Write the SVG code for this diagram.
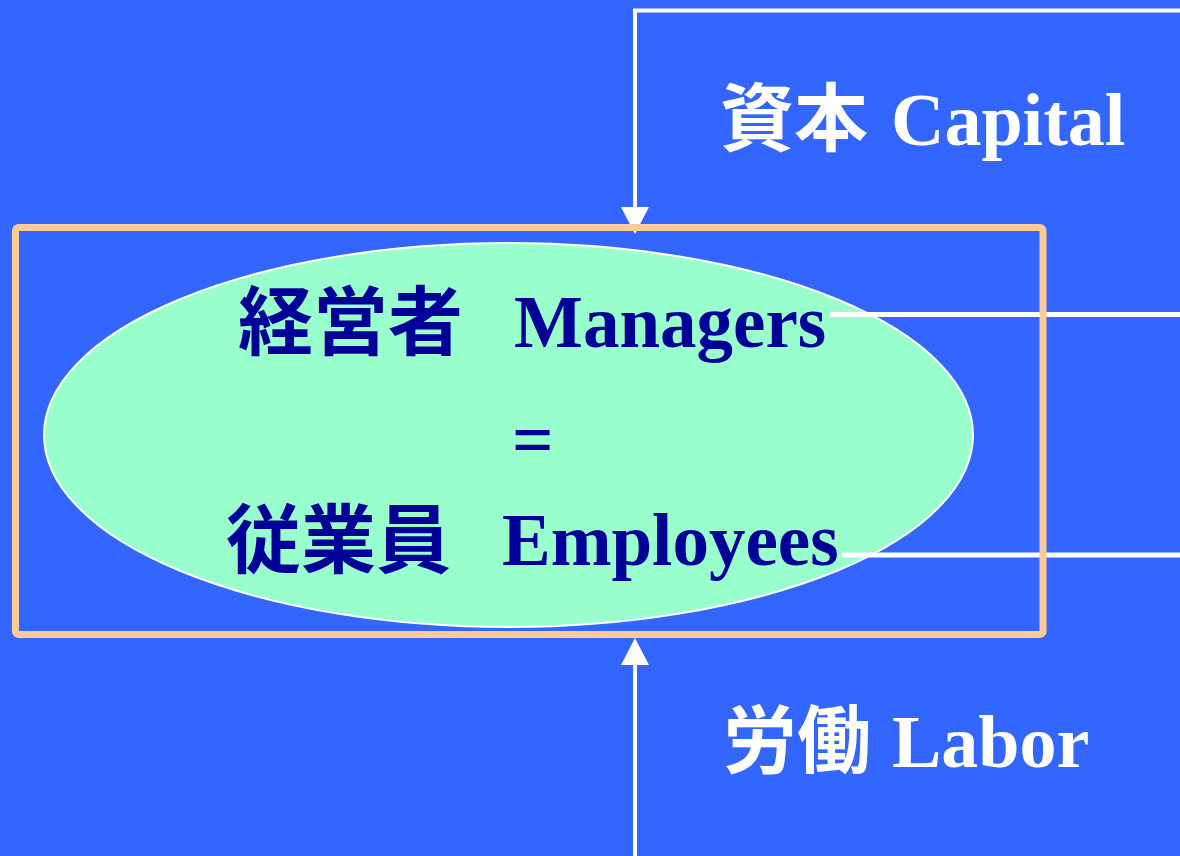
<svg xmlns="http://www.w3.org/2000/svg" width="1180" height="856" viewBox="0 0 1180 856">
<style>
.conn{stroke:#FFFFFF;stroke-width:4;fill:none}
.flow{stroke:#FFFFFF;stroke-width:5;fill:none}
.cjkn{font-family:"Noto Sans CJK JP","Noto Sans CJK SC",sans-serif;font-weight:bold;font-size:75px;fill:#000099}
.latn{font-family:"Liberation Serif","Times New Roman",serif;font-weight:bold;font-size:73px;fill:#000099}
.cjkw{font-family:"Noto Sans CJK JP","Noto Sans CJK SC",sans-serif;font-weight:bold;font-size:74px;fill:#FFFFFF}
.latw{font-family:"Liberation Serif","Times New Roman",serif;font-weight:bold;font-size:74px;fill:#FFFFFF}
</style>
<rect x="0" y="0" width="1180" height="856" fill="#3366FF"/>
<g id="people">
<ellipse cx="508.5" cy="435" rx="464.5" ry="192" fill="#99FFCC" stroke="#FFFFFF" stroke-width="2"/>
<text class="cjkn" x="238" y="349">経営者</text>
<text class="latn" x="514" y="347">Managers</text>
<text class="latn" x="512" y="465" font-size="80">=</text>
<text class="cjkn" x="226" y="567">従業員</text>
<text class="latn" x="502" y="565">Employees</text>
</g>
<g id="connectors">
<path class="conn" d="M1180,10.5 L635,10.5 L635,208"/>
<path d="M621,207 L649,207 L635,234 Z" fill="#FFFFFF"/>
<path class="conn" d="M635,856 L635,664"/>
<path d="M621,665 L649,665 L635,638 Z" fill="#FFFFFF"/>
<line class="flow" x1="830" y1="314.5" x2="1180" y2="314.5"/>
<line class="flow" x1="842" y1="555" x2="1180" y2="555"/>
</g>
<g id="firm">
<rect x="15.5" y="227.5" width="1027.5" height="407" rx="3" fill="none" stroke="#FFCC99" stroke-width="7"/>
</g>
<g id="capital">
<text class="cjkw" x="720" y="145">資本</text>
<text class="latw" x="891" y="145">Capital</text>
</g>
<g id="labor">
<text class="cjkw" x="723" y="767">労働</text>
<text class="latw" x="892" y="767">Labor</text>
</g>
</svg>
